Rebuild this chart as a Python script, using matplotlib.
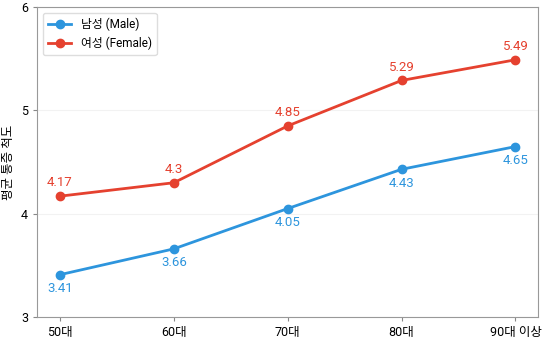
import matplotlib
matplotlib.use("Agg")
import matplotlib.pyplot as plt

plt.rcParams['font.family'] = ['Roboto', 'Noto Sans CJK KR', 'DejaVu Sans']

ages = ['50대', '60대', '70대', '80대', '90대 이상']
male = [3.41, 3.66, 4.05, 4.43, 4.65]
female = [4.17, 4.3, 4.85, 5.29, 5.49]

blue = '#2d95dd'
red = '#e5412f'

fig, ax = plt.subplots(figsize=(5.47, 3.38), dpi=100)
fig.subplots_adjust(left=0.068, right=0.984, top=0.979, bottom=0.062)

x = list(range(len(ages)))
ax.plot(x, male, color=blue, lw=2, marker='o', ms=6, label='남성 (Male)')
ax.plot(x, female, color=red, lw=2, marker='o', ms=6, label='여성 (Female)')

for i in x:
    ax.annotate(f"{male[i]:g}", (i, male[i]), xytext=(0, -10), textcoords='offset points',
                ha='center', va='center', color=blue, fontsize=9.5)
    ax.annotate(f"{female[i]:g}", (i, female[i]), xytext=(0, 9.5), textcoords='offset points',
                ha='center', va='center', color=red, fontsize=9.5)

ax.set_xlim(-0.2, 4.2)
ax.set_ylim(3, 6)
ax.set_yticks([3, 4, 5, 6])
ax.set_xticks(x)
ax.set_xticklabels(ages)
ax.tick_params(labelsize=9, length=3, color='#888888')
ax.set_ylabel('평균 통증 척도', fontsize=9)
ax.grid(axis='y', color='#f2f2f2', lw=0.8)
for s in ax.spines.values():
    s.set_color('#999999')

ax.legend(loc='upper left', fontsize=8.5, framealpha=1, edgecolor='#dddddd')

fig.savefig('out.png', dpi=100)
